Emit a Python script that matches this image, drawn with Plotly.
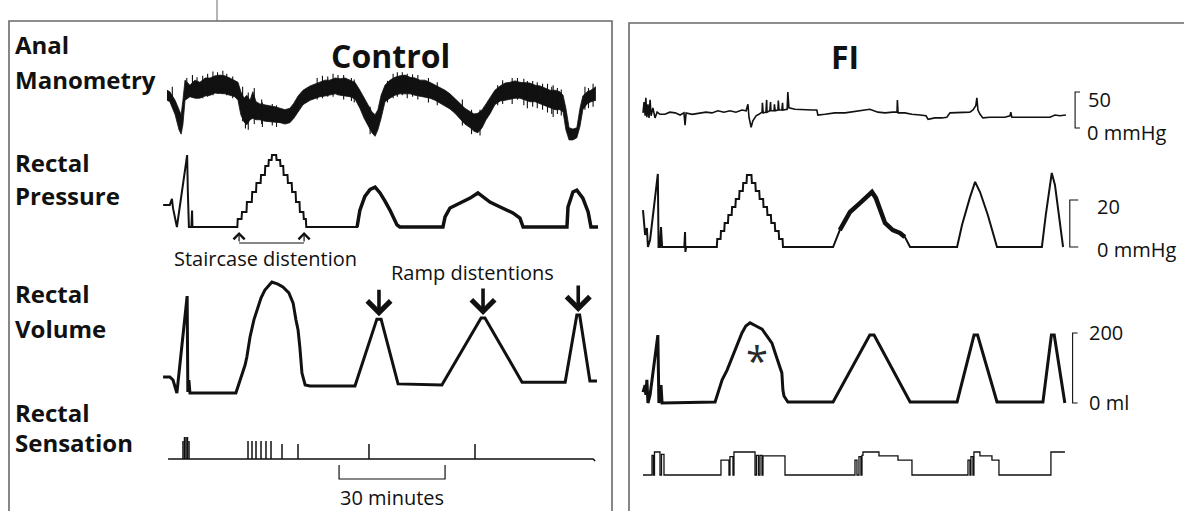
import plotly.graph_objects as go

# ======================= DATA (time in minutes) =======================
# ---- Control: anal manometry (mmHg), upper / lower edge of the noisy trace
CTRL_MANO_T = [0.0,0.8,2.3,3.4,4.0,4.5,5.1,6.5,7.9,9.3,10.8,12.2,13.6,15.0,16.4,17.8,19.2,20.1,20.9,21.8,
               22.6,23.5,24.3,25.2,26.3,27.7,29.2,30.6,32.0,33.4,34.8,35.9,37.1,38.5,40.5,41.9,43.3,44.7,46.1,47.6,
               49.0,50.4,51.8,53.2,54.6,55.8,56.9,58.0,58.9,59.7,60.6,61.7,63.1,64.5,65.9,67.4,68.8,70.2,71.6,73.0,
               74.4,75.9,77.3,78.7,80.1,81.5,82.9,84.3,85.8,86.9,88.0,89.2,90.3,91.4,92.8,94.3,95.7,97.1,98.5,99.9,
               101.3,102.7,104.2,105.6,107.0,108.4,109.8,111.2,112.1,112.9,113.8,114.9,116.0,116.9,117.7,118.9,120.0,121.4]
CTRL_MANO_HI = [83,81,69,56,49,69,97,90,97,94,100,100,103,104,103,100,97,94,81,72,
                76,69,81,67,64,63,61,60,58,56,58,65,75,83,89,92,94,97,97,100,
                99,100,97,94,83,72,63,53,49,56,76,90,97,101,103,104,101,100,97,97,
                94,90,86,83,78,72,65,58,53,50,51,56,64,72,83,89,93,94,96,94,
                94,93,90,89,86,83,83,81,76,58,31,29,31,58,75,81,83,88]
CTRL_MANO_LO = [69,67,49,28,22,35,69,74,72,72,75,76,79,79,78,76,74,69,49,39,
                35,42,44,42,42,40,39,39,38,36,38,44,53,63,69,72,74,75,76,78,
                76,75,74,71,58,44,35,24,19,28,44,67,72,76,78,78,78,76,75,74,
                72,69,65,61,57,51,44,36,31,26,24,31,42,50,63,68,69,71,72,72,
                69,67,67,64,61,58,56,56,53,28,14,14,17,33,56,64,67,69]
CTRL_MANO_SPIKE_T  = [1.5, 5.6, 7.2, 8.5, 10.1, 11.5, 13.0, 14.3, 15.8, 16.9, 18.6, 21.4, 22.2, 23.0, 24.7,
                      26.8, 27.0, 29.8, 31.0, 42.5, 44.0, 45.5, 47.0, 48.4, 50.0, 52.2, 53.0, 57.5, 62.4,
                      64.0, 65.2, 66.6, 68.0, 69.5, 71.0, 74.0, 76.5, 83.6, 86.2, 88.6, 93.6, 95.0, 97.7,
                      99.2, 101.0, 102.0, 103.5, 104.8, 106.3, 107.7, 108.9, 109.3, 110.5, 111.6, 118.3,
                      119.3, 120.6]
CTRL_MANO_SPIKE_LO = [60, 80, 74, 72, 72, 74, 76, 78, 78, 76, 72, 40, 30, 28, 36,
                      36, 32, 34, 32, 70, 72, 74, 74, 76, 70, 68, 66, 22, 66,
                      72, 74, 76, 72, 74, 70, 66, 62, 34, 22, 20, 62, 64, 64,
                      70, 62, 58, 60, 58, 56, 52, 50, 46, 50, 48, 56,
                      58, 60]
CTRL_MANO_SPIKE_HI = [88, 100, 104, 101, 103, 106, 109, 108, 110, 106, 102, 88, 70, 80, 86,
                      70, 66, 64, 62, 100, 103, 102, 106, 104, 104, 100, 98, 60, 96,
                      106, 108, 108, 106, 105, 104, 100, 94, 70, 56, 56, 90, 97, 100,
                      100, 99, 96, 96, 94, 92, 92, 88, 90, 86, 84, 88,
                      86, 92]

# ---- Control: rectal pressure (mmHg)
CTRL_PRES_PRE_T = [-1.1, 0.8, 1.4, 1.7, 2.8, 5.7, 5.9, 6.2, 6.9, 7.1, 7.2, 19.9]
CTRL_PRES_PRE_V = [9.4, 9.4, 12.0, 8.0, 0.0, 30.6, 15.0, 0.0, 0.0, 7.0, 0.0, 0.0]
CTRL_STAIR_T = [19.9, 21.1, 22.5, 24.0, 25.2, 26.5, 27.7, 28.7, 29.6,
                30.9, 32.0, 32.9, 34.1, 35.3, 36.4, 37.5, 38.6, 39.3]
CTRL_STAIR_V = [3.4, 6.4, 10.6, 14.9, 18.7, 22.1, 26.0, 28.5, 30.6,
                28.5, 26.0, 22.1, 18.7, 14.9, 10.6, 6.4, 3.4, 0.0]
CTRL_PRES_POST_T = [53.8, 54.6, 56.0, 57.5, 58.9, 60.3, 61.7, 63.1, 65.1, 65.9, 78.1, 78.7, 80.1, 82.9,
                    85.8, 88.0, 91.4, 94.3, 97.9, 99.9, 100.8, 113.2, 113.5, 114.9, 116.0, 117.7, 119.2,
                    120.0, 122.0]
CTRL_PRES_POST_V = [0.0, 7.2, 13.0, 16.0, 17.0, 14.5, 11.0, 7.2, 0.9, 0.0, 0.0, 4.3, 8.1, 10.2,
                    12.3, 14.5, 10.6, 8.5, 6.0, 3.8, 0.0, 0.0, 8.5, 14.9, 15.7, 12.3, 6.4, 0.0, 0.0]
CTRL_STAIR_MARKS = [20.4, 38.8]          # staircase start / end markers

# ---- Control: rectal volume (ml)
CTRL_VOL_T = [-1.1, 0.8, 1.7, 2.8, 5.7, 5.9, 6.2, 6.5, 19.5, 20.7, 22.1, 22.6, 23.5, 24.6, 25.5, 26.6,
              27.7, 29.7, 31.4, 32.8, 34.5, 35.7, 36.5, 37.1, 37.6, 38.2, 39.1, 40.5, 53.2, 59.4, 60.6,
              65.4, 77.8, 88.9, 90.0, 100.5, 112.7, 116.0, 116.8, 119.7, 121.7]
CTRL_VOL_V = [46, 46, 37, 0, 277, 3, 37, 0, 0, 37, 80, 103, 160, 209, 237, 271,
              294, 317, 311, 303, 286, 257, 209, 180, 131, 57, 23, 20, 20, 211, 211,
              26, 23, 214, 214, 31, 31, 223, 223, 34, 34]
RAMP_PEAK_T = [60.0, 89.45, 116.4]
RAMP_PEAK_V = [211, 214, 223]

# ---- Control: rectal sensation (events)
CTRL_SENS_T = [4.53, 4.95, 5.38, 5.80, 6.23, 22.93, 24.06, 25.19, 26.61, 28.02, 29.44,
               32.55, 37.08, 57.17, 87.18]
CTRL_SENS_H = [0.9, 1.1, 1.1, 1.1, 0.9, 0.9, 0.9, 0.9, 0.9, 0.9, 0.9, 0.75, 0.75, 0.75, 0.75]
CTRL_SENS_SPAN = [0.3, 120.6]
TIME_BAR_START, TIME_BAR_LEN = 48.7, 30     # "30 minutes" scale bar

# ---- FI: anal manometry (mmHg)
FI_MANO_T = [0.0,0.3,0.6,0.8,1.1,1.4,1.7,2.0,2.3,2.8,3.4,4.0,4.8,6.2,7.6,9.1,10.5,11.6,11.9,12.2,
             13.9,16.1,17.8,19.5,21.2,22.9,24.6,26.3,28.0,29.2,29.7,30.0,30.6,31.1,32.0,32.8,33.7,33.8,34.0,34.8,
             35.0,35.1,35.9,36.1,36.2,37.1,37.2,37.4,38.2,38.3,38.5,39.3,39.5,39.6,40.8,41.0,41.3,43.0,45.8,47.8,
             49.2,49.5,51.5,54.3,57.2,58.6,61.4,64.2,66.5,68.5,70.7,71.9,72.0,72.2,74.1,76.1,78.4,80.1,80.7,82.6,
             84.6,86.0,86.9,89.1,91.1,92.5,93.4,94.2,94.5,94.8,95.4,96.2,98.2,101.0,102.4,103.9,104.1,104.4,106.7,108.1,
             109.5,111.5,113.8,115.2,116.6,118.0,119.7]
FI_MANO_V = [21,36,17,42,15,33,14,39,17,28,14,22,19,19,22,21,18,21,4,21,
             19,21,22,21,24,22,24,22,25,24,33,15,1,10,17,19,22,35,21,22,
             39,22,24,36,24,24,33,24,25,38,25,25,35,25,26,50,28,26,25,25,
             25,18,19,21,21,22,24,26,22,21,22,22,39,21,21,19,18,17,12,14,
             14,15,21,21,21,22,25,31,42,25,19,14,15,15,15,17,22,15,15,14,
             15,14,15,15,18,17,18]

# ---- FI: rectal pressure (mmHg)
FI_PRES_PRE_T = [0.0, 0.6, 1.1, 1.4, 2.0, 4.2, 4.4, 4.8, 5.1, 5.4, 11.7, 11.9, 12.0, 12.2, 20.9]
FI_PRES_PRE_V = [15.7, 5.1, 8.1, 0.0, 3.0, 31.1, 0.0, 0.0, 8.5, 0.0, 0.0, 6.4, -2.1, 0.0, 0.0]
FI_STAIR_T = [20.9, 21.95, 23.0, 24.05, 25.1, 26.15, 27.2, 28.25, 29.3,
              30.7, 31.8, 32.9, 34.0, 35.1, 36.2, 37.3, 38.4, 39.5]
FI_STAIR_V = [3.4, 6.8, 10.2, 13.6, 17.0, 20.4, 23.8, 27.2, 30.6,
              27.2, 23.8, 20.4, 17.0, 13.6, 10.2, 6.8, 3.4, 0.0]
FI_PRES_POST_T = [53.8, 55.7, 58.6, 61.4, 63.7, 64.8, 65.9, 68.5, 70.7, 72.7, 74.1, 75.6, 88.9, 90.3,
                  92.5, 94.0, 95.4, 97.6, 100.2, 112.9, 114.0, 115.7, 116.6, 118.9]
FI_PRES_POST_V = [0.0, 7.2, 14.9, 18.7, 21.7, 23.4, 20.9, 10.2, 7.2, 6.0, 4.3, 0.0, 0.0, 9.4,
                  20.9, 27.7, 23.4, 13.6, 0.0, 0.0, 13.6, 31.5, 26.4, 0.0]

# ---- FI: rectal volume (ml)
FI_VOL_T = [0.0, 0.6, 0.8, 1.1, 1.4, 2.0, 4.2, 4.5, 5.1, 5.4, 20.4, 22.4, 23.8, 25.2, 26.6, 28.0, 29.1,
            30.3, 32.0, 33.7, 35.1, 36.5, 37.6, 38.5, 39.3, 39.6, 39.9, 41.0, 53.8, 64.2, 65.4, 75.6,
            88.9, 93.7, 94.7, 100.2, 113.2, 115.6, 116.4, 119.4]
FI_VOL_V = [31, 51, 23, 66, 0, 23, 194, 0, 51, 0, 3, 66, 94, 131, 166, 200, 220,
            229, 220, 211, 191, 171, 137, 109, 86, 37, 20, 3, 3, 194, 194, 3,
            3, 194, 194, 3, 3, 194, 194, 0]
FI_STAR = (32.3, 143)

# ---- FI: rectal sensation (step levels)
FI_SENS_T = [0, 2.55, 2.97, 3.25, 4.81, 5.24, 5.94, 22.07, 24.34, 24.62, 25.47, 25.75,
             31.70, 32.12, 32.69, 33.11, 33.68, 33.96, 40.19, 60.0, 60.56, 61.13, 61.69, 61.98,
             62.26, 66.79, 72.17, 76.13, 91.98, 92.54, 92.82, 93.39, 93.67, 95.37, 98.77, 100.75,
             115.46, 119.43]
FI_SENS_L = [0, 0.85, 0, 1.0, 0, 0.9, 0, 0.65, 0, 0.8, 0, 1.0,
             0, 0.85, 0, 0.85, 0, 0.83, 0, 0.65, 0, 0.8, 0, 0.85,
             1.0, 0.83, 0.65, 0, 0.65, 0, 0.8, 0, 1.0, 0.83, 0.65, 0,
             1.0, 1.0]

# ---- scale bars (FI panel)
SCALE_MANO = (0, 50)
SCALE_PRES = (0, 20)
SCALE_VOL = (0, 200)

# ======================= LAYOUT HELPERS =======================
W, H = 1184, 511
K = 3.533          # px per minute
INK = "#111111"
FONT = "Open Sans"


def xax(px0, px1, origin):
    return dict(domain=[px0 / W, px1 / W], range=[(px0 - origin) / K, (px1 - origin) / K],
                visible=False, fixedrange=True)


def yax(top, bot, zero, scale, anchor):
    return dict(domain=[1 - bot / H, 1 - top / H], range=[(zero - bot) / scale, (zero - top) / scale],
                visible=False, fixedrange=True, anchor=anchor)


def stairs(ts, vs, start):
    xs, ys, prev = [], [], start
    for t, v in zip(ts, vs):
        xs += [t, t + 0.12]
        ys += [prev, v]
        prev = v
    return xs, ys


def py(ypx):
    return 1 - ypx / H


fig = go.Figure()

# ---------- Control ----------
fig.add_trace(go.Scatter(x=CTRL_MANO_T, y=CTRL_MANO_HI, mode="lines", line=dict(color=INK, width=0.8),
                         xaxis="x", yaxis="y", hoverinfo="skip"))
fig.add_trace(go.Scatter(x=CTRL_MANO_T, y=CTRL_MANO_LO, mode="lines", line=dict(color=INK, width=0.8),
                         fill="tonexty", fillcolor=INK, xaxis="x", yaxis="y", hoverinfo="skip"))
sx, sy = [], []
for t, lo, hi in zip(CTRL_MANO_SPIKE_T, CTRL_MANO_SPIKE_LO, CTRL_MANO_SPIKE_HI):
    sx += [t, t, None]
    sy += [lo, hi, None]
fig.add_trace(go.Scatter(x=sx, y=sy, mode="lines", line=dict(color=INK, width=1.1),
                         xaxis="x", yaxis="y", hoverinfo="skip"))

stx, sty = stairs(CTRL_STAIR_T, CTRL_STAIR_V, 0.0)
cpx = CTRL_PRES_PRE_T + stx + CTRL_PRES_POST_T
cpy = CTRL_PRES_PRE_V + sty + CTRL_PRES_POST_V
fig.add_trace(go.Scatter(x=cpx, y=cpy, mode="lines", line=dict(color=INK, width=2),
                         xaxis="x", yaxis="y2", hoverinfo="skip"))
fig.add_trace(go.Scatter(x=CTRL_PRES_POST_T, y=CTRL_PRES_POST_V, mode="lines", line=dict(color=INK, width=3.5),
                         xaxis="x", yaxis="y2", hoverinfo="skip"))

fig.add_trace(go.Scatter(x=CTRL_VOL_T, y=CTRL_VOL_V, mode="lines", line=dict(color=INK, width=3),
                         xaxis="x", yaxis="y3", hoverinfo="skip"))

ex = [CTRL_SENS_SPAN[0], CTRL_SENS_SPAN[1], CTRL_SENS_SPAN[1] + 0.6, None]
ey = [0, 0, -0.1, None]
for t, h in zip(CTRL_SENS_T, CTRL_SENS_H):
    ex += [t, t, None]
    ey += [0, h, None]
fig.add_trace(go.Scatter(x=ex, y=ey, mode="lines", line=dict(color=INK, width=1.5),
                         xaxis="x", yaxis="y4", hoverinfo="skip"))

# ---------- FI ----------
fig.add_trace(go.Scatter(x=FI_MANO_T, y=FI_MANO_V, mode="lines", line=dict(color=INK, width=1.6),
                         xaxis="x5", yaxis="y5", hoverinfo="skip"))
ftx, fty = stairs(FI_STAIR_T, FI_STAIR_V, 0.0)
fpx = FI_PRES_PRE_T + ftx + FI_PRES_POST_T
fpy = FI_PRES_PRE_V + fty + FI_PRES_POST_V
fig.add_trace(go.Scatter(x=fpx, y=fpy, mode="lines", line=dict(color=INK, width=2),
                         xaxis="x5", yaxis="y6", hoverinfo="skip"))
band = [(t, v) for t, v in zip(FI_PRES_POST_T, FI_PRES_POST_V) if 55 <= t <= 75]
fig.add_trace(go.Scatter(x=[b[0] for b in band], y=[b[1] for b in band], mode="lines",
                         line=dict(color=INK, width=4.5), xaxis="x5", yaxis="y6", hoverinfo="skip"))
fig.add_trace(go.Scatter(x=FI_VOL_T, y=FI_VOL_V, mode="lines", line=dict(color=INK, width=3),
                         xaxis="x5", yaxis="y7", hoverinfo="skip"))
fig.add_trace(go.Scatter(x=FI_SENS_T, y=FI_SENS_L, mode="lines", line=dict(color=INK, width=1.3, shape="hv"),
                         xaxis="x5", yaxis="y8", hoverinfo="skip"))

# ---------- axes ----------
layout_axes = dict(
    xaxis=xax(150, 612, 167),
    yaxis=yax(40, 150, 150, 0.72, "x"),
    yaxis2=yax(140, 250, 227, 2.35, "x"),
    yaxis3=yax(265, 400, 393, 0.35, "x"),
    yaxis4=yax(420, 511, 459, 20, "x"),
    xaxis5=xax(632, 1184, 643),
    yaxis5=yax(60, 150, 128, 0.72, "x5"),
    yaxis6=yax(160, 260, 247, 2.35, "x5"),
    yaxis7=yax(300, 420, 403, 0.35, "x5"),
    yaxis8=yax(440, 500, 475, 23, "x5"),
)

shapes = []
GRAY = "#6a6a6a"
# panel frames
shapes.append(dict(type="rect", xref="paper", yref="paper", x0=9 / W, x1=612 / W, y0=py(530), y1=py(21),
                   line=dict(color=GRAY, width=1.6)))
shapes.append(dict(type="rect", xref="paper", yref="paper", x0=629 / W, x1=1195 / W, y0=py(530), y1=py(23),
                   line=dict(color=GRAY, width=1.6)))
shapes.append(dict(type="line", xref="paper", yref="paper", x0=217 / W, x1=217 / W, y0=py(0), y1=py(21),
                   line=dict(color=GRAY, width=1)))
# staircase bracket line
shapes.append(dict(type="line", xref="x", yref="y2", x0=CTRL_STAIR_MARKS[0], x1=CTRL_STAIR_MARKS[1],
                   y0=-6.8, y1=-6.8, line=dict(color=INK, width=1.2)))
# 30-minute bar
b0, b1 = TIME_BAR_START, TIME_BAR_START + TIME_BAR_LEN
shapes.append(dict(type="path", xref="x", yref="y4",
                   path=f"M {b0},-0.3 L {b0},-1.0 L {b1},-1.0 L {b1},-0.3",
                   line=dict(color=INK, width=1.2)))
# FI scale brackets
def bracket(xa, ya, t, lo, hi, tick=1.4):
    return dict(type="path", xref=xa, yref=ya,
                path=f"M {t + tick},{hi} L {t},{hi} L {t},{lo} L {t + tick},{lo}",
                line=dict(color=INK, width=1.1))
shapes.append(bracket("x5", "y5", 122.3, SCALE_MANO[0], SCALE_MANO[1]))
shapes.append(bracket("x5", "y6", 120.8, SCALE_PRES[0], SCALE_PRES[1], tick=2.4))
shapes.append(bracket("x5", "y7", 121.6, SCALE_VOL[0], SCALE_VOL[1]))

ann = []
def label(text, xpx, ypx, size, bold=False, anchor="left"):
    ann.append(dict(text=f"<b>{text}</b>" if bold else text, xref="paper", yref="paper",
                    x=xpx / W, y=py(ypx), xanchor=anchor, yanchor="middle", showarrow=False,
                    font=dict(family=FONT, size=size, color=INK)))

for txt, yc in [("Anal", 45), ("Manometry", 79), ("Rectal", 162), ("Pressure", 195),
                ("Rectal", 293), ("Volume", 328), ("Rectal", 412), ("Sensation", 442)]:
    label(txt, 13, yc, 24, bold=True)
label("Control", 390, 55, 32, bold=True, anchor="center")
label("FI", 845, 56, 32, bold=True, anchor="center")
label("Staircase distention", 265, 258, 20, anchor="center")
label("Ramp distentions", 472, 272, 20, anchor="center")

ann.append(dict(text="30 minutes", xref="x", yref="y4", x=(b0 + b1) / 2, y=-1.9, showarrow=False,
                xanchor="center", yanchor="middle", font=dict(family=FONT, size=20, color=INK)))

# staircase up arrows
for t in CTRL_STAIR_MARKS:
    ann.append(dict(text="", xref="x", yref="y2", x=t, y=-2.1, ax=0, ay=11,
                    showarrow=True, arrowhead=4, arrowsize=1.8, arrowwidth=1.2, arrowcolor=INK))
# ramp down arrows
for t, v in zip(RAMP_PEAK_T, RAMP_PEAK_V):
    ann.append(dict(text="", xref="x", yref="y3", x=t, y=v, ax=0, ay=-31, showarrow=True,
                    arrowhead=4, arrowsize=1.25, arrowwidth=3.6, arrowcolor=INK, standoff=3))
# asterisk
ann.append(dict(text="*", xref="x5", yref="y7", x=FI_STAR[0], y=FI_STAR[1], showarrow=False,
                xanchor="center", yanchor="middle", yshift=-8, font=dict(family=FONT, size=40, color="#2a2a2a")))

# scale-bar labels
def sb(text, ya, t, v, shift):
    ann.append(dict(text=text, xref="x5", yref=ya, x=t, y=v, showarrow=False, xanchor="left",
                    yanchor="middle", yshift=shift, font=dict(family=FONT, size=20, color=INK)))
sb(str(SCALE_MANO[1]), "y5", 125.3, SCALE_MANO[1], -7)
sb(f"{SCALE_MANO[0]} mmHg", "y5", 125.0, SCALE_MANO[0], -4)
sb(str(SCALE_PRES[1]), "y6", 128.0, SCALE_PRES[1], -6)
sb(f"{SCALE_PRES[0]} mmHg", "y6", 128.0, SCALE_PRES[0], -2)
sb(str(SCALE_VOL[1]), "y7", 125.6, SCALE_VOL[1], 1)
sb(f"{SCALE_VOL[0]} ml", "y7", 125.6, SCALE_VOL[0], 1)

fig.update_layout(width=W, height=H, margin=dict(l=0, r=0, t=0, b=0), autosize=False,
                  paper_bgcolor="white", plot_bgcolor="rgba(0,0,0,0)", showlegend=False,
                  shapes=shapes, annotations=ann, **layout_axes)
fig.write_html("out.html", config={"displayModeBar": False},
               post_script="document.body.style.margin='0';document.body.style.overflow='hidden';")
